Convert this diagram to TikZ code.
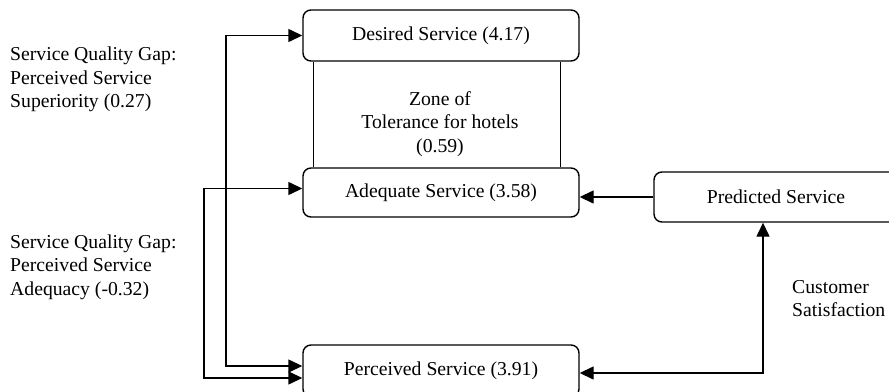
\documentclass[tikz,border=0pt]{standalone}
\usepackage{fontspec}
\setmainfont{Liberation Serif}
\usetikzlibrary{arrows.meta}
\begin{document}
\begin{tikzpicture}[x=1pt,y=-1pt,
  box/.style={draw, line width=1.4pt, rounded corners=8pt, inner sep=0pt},
  conn/.style={line width=1.4pt},
  tip/.style={-{Triangle[length=14pt,width=13pt]}},
  tips/.style={{Triangle[length=14pt,width=13pt]}-{Triangle[length=14pt,width=13pt]}},
  lbl/.style={align=left, anchor=north west, inner sep=0pt},
  every node/.append style={font=\fontsize{19.7}{23.5}\selectfont}]
\useasboundingbox (0,0) rectangle (889,391);
\clip (0,0) rectangle (889,391);
\node[box, minimum width=276pt, minimum height=51pt] (des) at (441,35.5) {Desired Service (4.17)};
\node[box, minimum width=276pt, minimum height=49pt] (ade) at (441,192.5) {Adequate Service (3.58)};
\node[box, minimum width=276pt, minimum height=52pt] (per) at (441,371) {Perceived Service (3.91)};
\node[box, minimum width=244pt, minimum height=50pt] (pre) at (776,197) {Predicted Service};
\node[align=center] (zone) at (440,124) {Zone of\\Tolerance for hotels\\(0.59)};
\draw[conn] ([xshift=11pt]des.south west) -- ([xshift=11pt]ade.north west);
\draw[conn] ([xshift=-19pt]des.south east) -- ([xshift=-19pt]ade.north east);
\coordinate (l1) at (226,0);
\coordinate (l2) at (204,0);
\coordinate (l3) at (763,0);
\draw[conn,tips] (des.west) -- (des.west -| l1) |- ([yshift=5pt]per.west);
\draw[conn,tips] ([yshift=4pt]ade.west) -- ([yshift=4pt]ade.west -| l2) |- ([yshift=-7pt]per.west);
\draw[conn,tip] (pre.west) -- (pre.west -| ade.east);
\draw[conn,tips] (l3 |- pre.south) |- ([yshift=-2pt]per.east);
\node[lbl] (gap1) at (10,47) {Service Quality Gap:\\Perceived Service\\Superiority (0.27)};
\node[lbl] (gap2) at (10,234.5) {Service Quality Gap:\\Perceived Service\\Adequacy (-0.32)};
\node[lbl] (cs) at (792,280) {Customer\\Satisfaction};
\end{tikzpicture}
\end{document}
